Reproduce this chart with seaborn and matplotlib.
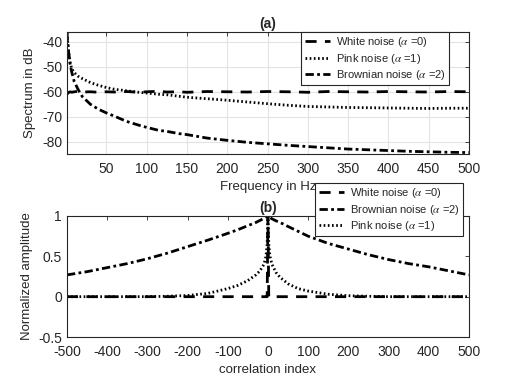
import pandas as pd
import matplotlib
matplotlib.use("Agg")
import matplotlib.pyplot as plt
import seaborn as sns

# (a) spectrum, values
freq_hz = [1, 2, 3, 5, 7, 10, 15, 20, 30, 40, 50, 60, 75, 90, 100, 115, 125, 140, 150,
           175, 200, 225, 250, 275, 300, 325, 350, 375, 400, 425, 450, 475, 500]
white_db = [-61, -60.6, -60.3, -60, -60.2, -60, -59.8, -60.1, -60, -60.2, -60, -60.1, -59.9,
            -60.2, -60, -59.8, -60.1, -60, -60.2, -59.9, -60, -60.1, -59.9, -60, -60.2, -59.9,
            -60, -60.1, -59.9, -60, -60.1, -59.9, -60]
pink_db = [-36.3, -40.5, -44, -48.5, -50.8, -52.3, -53.8, -54.7, -56.3, -57.4, -58.3, -59, -59.6,
           -60.2, -60.5, -61, -61.2, -61.8, -62.2, -62.8, -63.4, -64.1, -64.8, -65.4, -65.9,
           -66.1, -66.3, -66.4, -66.5, -66.6, -66.7, -66.6, -66.6]
brown_db = [-36.2, -40.5, -44, -49, -52.2, -55.9, -59.2, -61.9, -65, -67, -68.5, -69.8, -71.9,
            -73.4, -74.3, -75.5, -75.9, -76.8, -77.2, -78.6, -79.5, -80.3, -80.9, -81.5, -82,
            -82.5, -83, -83.3, -83.6, -83.9, -84.1, -84.3, -84.4]

# (b) normalized autocorrelation
lag = [-500, -450, -400, -350, -300, -250, -200, -150, -100, -75, -50, -30, -20, -10, -5, -2, 0,
       2, 5, 10, 20, 30, 50, 75, 100, 150, 200, 250, 300, 350, 400, 450, 500]
white_ac = [0] * 16 + [1] + [0] * 16
brown_ac = [0.27, 0.31, 0.36, 0.41, 0.47, 0.54, 0.62, 0.70, 0.785, 0.83, 0.88, 0.92, 0.945,
            0.97, 0.985, 0.995, 1, 0.99, 0.98, 0.965, 0.94, 0.92, 0.87, 0.81, 0.75, 0.66,
            0.59, 0.52, 0.46, 0.41, 0.37, 0.32, 0.27]
pink_ac = [0, 0, 0, 0, 0, 0.005, 0.015, 0.04, 0.10, 0.14, 0.2, 0.27, 0.32, 0.4, 0.5, 0.65, 1,
           0.65, 0.5, 0.4, 0.3, 0.24, 0.16, 0.1, 0.07, 0.03, 0.012, 0.005, 0, 0, 0, 0, 0]

sns.set_style("white")
plt.rcParams['font.family'] = ['Liberation Sans', 'DejaVu Sans']
plt.rcParams['mathtext.fontset'] = 'stix'
plt.rcParams['axes.unicode_minus'] = False
plt.rcParams['xtick.direction'] = 'in'
plt.rcParams['ytick.direction'] = 'in'

fig = plt.figure(figsize=(5.18, 3.88), dpi=100)
ax1 = fig.add_axes([0.1293, 0.603, 0.776, 0.3145])
ax2 = fig.add_axes([0.1293, 0.1314, 0.776, 0.3119])

lw = 2.0
dash_w = (0, (4, 3))
dash_p = (0, (0.6, 0.9))
dash_b = (0, (3, 1.2, 1, 1.2))
lbl = {
    "w": r"White noise ($\alpha$ =0)",
    "p": r"Pink noise ($\alpha$ =1)",
    "b": r"Brownian noise ($\alpha$ =2)",
}

df_a = pd.DataFrame({"f": freq_hz, "w": white_db, "p": pink_db, "b": brown_db})
sns.lineplot(data=df_a, x="f", y="w", ax=ax1, color="black", lw=lw, linestyle=dash_w, label=lbl["w"])
sns.lineplot(data=df_a, x="f", y="p", ax=ax1, color="black", lw=lw, linestyle=dash_p, label=lbl["p"])
sns.lineplot(data=df_a, x="f", y="b", ax=ax1, color="black", lw=lw, linestyle=dash_b, label=lbl["b"])

df_b = pd.DataFrame({"lag": lag, "w": white_ac, "b": brown_ac, "p": pink_ac})
sns.lineplot(data=df_b, x="lag", y="w", ax=ax2, color="black", lw=lw, linestyle=dash_w, label=lbl["w"])
sns.lineplot(data=df_b, x="lag", y="b", ax=ax2, color="black", lw=lw, linestyle=dash_b, label=lbl["b"])
sns.lineplot(data=df_b, x="lag", y="p", ax=ax2, color="black", lw=lw, linestyle=dash_p, label=lbl["p"])

ax1.set_xlim(1, 500)
ax1.set_ylim(-85, -36)
ax1.set_xticks(range(50, 501, 50))
ax1.set_yticks([-80, -70, -60, -50, -40])
ax1.grid(True, color="#e3e3e3", lw=0.8)
ax1.set_xlabel("Frequency in Hz", fontsize=9.5, color="#262626", labelpad=3)
ax1.set_ylabel("Spectrum in dB", fontsize=9.5, color="#262626")
ax1.set_title("(a)", fontsize=10, fontweight="bold", pad=3)

ax2.set_xlim(-500, 500)
ax2.set_ylim(-0.5, 1)
ax2.set_xticks(range(-500, 501, 100))
ax2.set_yticks([-0.5, 0, 0.5, 1])
ax2.set_yticklabels(["-0.5", "0", "0.5", "1"])
ax2.set_xlabel("correlation index", fontsize=9.5, color="#262626", labelpad=3)
ax2.set_ylabel("Normalized amplitude", fontsize=9.5, color="#262626")
ax2.set_title("(b)", fontsize=10, fontweight="bold", pad=3)

for ax in (ax1, ax2):
    ax.tick_params(labelsize=10, colors="#262626", length=3, width=0.6, top=True, right=True)
    ax.tick_params(axis="x", pad=6)
    for s in ax.spines.values():
        s.set_color("#262626")
        s.set_linewidth(0.8)

leg_kw = dict(loc="upper right", bbox_transform=fig.transFigure, borderaxespad=0,
              fontsize=8, fancybox=False, edgecolor="#262626", framealpha=1,
              handlelength=2.3, handletextpad=0.5, labelspacing=0.2, borderpad=0.3)
l1 = ax1.legend(bbox_to_anchor=(0.8668, 0.9175), **leg_kw)
l2 = ax2.legend(bbox_to_anchor=(0.8938, 0.5284), **leg_kw)
for lg in (l1, l2):
    lg.get_frame().set_linewidth(0.8)

fig.savefig("out.png", dpi=100)
